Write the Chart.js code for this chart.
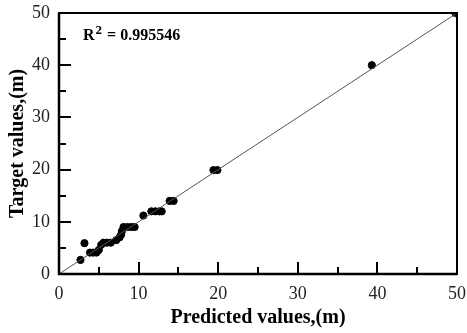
<!DOCTYPE html>
<html lang="en">
<head>
<meta charset="UTF-8">
<script src="https://cdn.jsdelivr.net/npm/chart.js@4.4.0/dist/chart.umd.min.js"></script>
<title>Predicted vs target</title>
<style>
  html, body { margin: 0; padding: 0; background: #fff; }
  #wrap { width: 467px; height: 333px; }
</style>
</head>
<body>
<div id="wrap"><canvas id="scatter" width="467" height="333"></canvas></div>
<script>
// values
var predicted = [2.7, 3.2, 3.9, 4.3, 4.7, 5.0, 5.3, 5.6, 6.0, 6.5, 7.2, 7.6, 7.8, 7.9, 8.1, 8.6, 9.1, 9.5, 10.6, 11.6, 12.1, 12.6, 12.9, 13.9, 14.4, 19.4, 19.9, 39.3, 49.8];
var target    = [2.7, 5.9, 4.1, 4.1, 4.1, 4.6, 5.6, 6.0, 6.0, 6.0, 6.5, 7.0, 7.5, 8.2, 9.0, 9.0, 9.0, 9.0, 11.2, 12.0, 12.0, 12.0, 12.0, 14.0, 14.0, 19.9, 19.9, 40.0, 50.0];
var fitX = [0, 50];
var fitY = [0, 50];
var r2Text = '0.995546';

var pts = [];
for (var i = 0; i < predicted.length; i++) pts.push({x: predicted[i], y: target[i]});
var fit = [];
for (var j = 0; j < fitX.length; j++) fit.push({x: fitX[j], y: fitY[j]});

// frame, inward ticks and the R^2 label
var framePlugin = {
  id: 'frame',
  afterDraw: function (chart) {
    var ctx = chart.ctx, a = chart.chartArea;
    var xs = chart.scales.x, ys = chart.scales.y;
    ctx.save();
    ctx.strokeStyle = '#000';
    ctx.lineWidth = 2;
    ctx.strokeRect(a.left, a.top, a.right - a.left, a.bottom - a.top);
    ctx.lineWidth = 2.5;
    ctx.beginPath(); ctx.moveTo(a.left, a.top); ctx.lineTo(a.left, a.bottom); ctx.lineTo(a.right, a.bottom); ctx.stroke();
    ctx.lineWidth = 2;
    for (var v = 0; v <= 50; v += 5) {
      var len = (v % 10 === 0) ? 12 : 7;
      var px = Math.round(xs.getPixelForValue(v));
      ctx.beginPath(); ctx.moveTo(px, a.bottom); ctx.lineTo(px, a.bottom - len); ctx.stroke();
      var py = Math.round(ys.getPixelForValue(v));
      ctx.beginPath(); ctx.moveTo(a.left, py); ctx.lineTo(a.left + len, py); ctx.stroke();
    }
    var tx = a.left + 24, ty = a.top + 27;
    ctx.fillStyle = '#000';
    ctx.textBaseline = 'alphabetic';
    ctx.font = 'bold 16px "Liberation Serif"';
    ctx.fillText('R', tx, ty);
    var w = ctx.measureText('R').width;
    ctx.font = 'bold 13px "Liberation Serif"';
    ctx.fillText('2', tx + w + 1, ty - 6);
    var w2 = ctx.measureText('2').width;
    ctx.font = 'bold 16px "Liberation Serif"';
    ctx.fillText(' = ' + r2Text, tx + w + w2 + 2, ty);
    ctx.restore();
  }
};

new Chart(document.getElementById('scatter'), {
  type: 'scatter',
  data: {
    datasets: [
      {
        type: 'line',
        data: fit,
        borderColor: '#555',
        borderWidth: 1,
        pointRadius: 0,
        fill: false
      },
      {
        data: pts,
        backgroundColor: '#000',
        borderColor: '#000',
        pointRadius: 3.6,
        pointHoverRadius: 3.6
      }
    ]
  },
  options: {
    responsive: false,
    animation: false,
    layout: { autoPadding: false, padding: { top: 13, right: 10, left: 6, bottom: 3 } },
    plugins: { legend: { display: false }, tooltip: { enabled: false } },
    scales: {
      x: {
        type: 'linear', min: 0, max: 50,
        grid: { display: false, drawTicks: false },
        border: { display: false },
        ticks: { stepSize: 10, color: '#222', padding: 9, font: { family: 'Liberation Serif', size: 18 } },
        title: { display: true, text: 'Predicted values,(m)', color: '#000', padding: { top: 1, bottom: 0 },
                 font: { family: 'Liberation Serif', size: 20, weight: 'bold' } },
        afterFit: function (s) { s.height = 56; s.paddingLeft = 0; s.paddingRight = 0; }
      },
      y: {
        type: 'linear', min: 0, max: 50,
        grid: { display: false, drawTicks: false },
        border: { display: false },
        ticks: { stepSize: 10, color: '#222', padding: 9, font: { family: 'Liberation Serif', size: 18 } },
        title: { display: true, text: 'Target values,(m)', color: '#000', padding: { top: 0, bottom: 2 },
                 font: { family: 'Liberation Serif', size: 20, weight: 'bold' } },
        afterFit: function (s) { s.width = 53; s.paddingTop = 0; s.paddingBottom = 0; }
      }
    }
  },
  plugins: [framePlugin]
});
</script>
</body>
</html>
